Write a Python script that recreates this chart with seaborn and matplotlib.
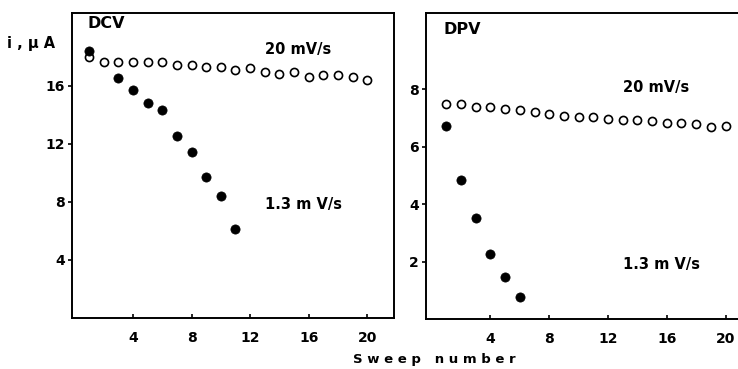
import numpy as np
import pandas as pd
import seaborn as sns
import matplotlib.pyplot as plt

sns.set_style("ticks")
plt.rcParams['font.family'] = ['DejaVu Sans']
plt.rcParams['font.weight'] = 'bold'
plt.rcParams['text.color'] = 'black'
plt.rcParams['xtick.color'] = 'black'
plt.rcParams['ytick.color'] = 'black'
plt.rcParams['axes.edgecolor'] = 'black'

# DCV panel
dcv_sweep_fast = list(range(1, 21))
dcv_fast = [18.0, 17.6, 17.6, 17.6, 17.6, 17.6, 17.4, 17.45, 17.3, 17.3,
            17.1, 17.2, 16.9, 16.8, 16.9, 16.6, 16.7, 16.7, 16.6, 16.4]
dcv_sweep_slow = [1, 3, 4, 5, 6, 7, 8, 9, 10, 11]
dcv_slow = [18.4, 16.5, 15.7, 14.8, 14.3, 12.5, 11.4, 9.7, 8.4, 6.1]

# DPV panel
dpv_sweep_fast = list(range(1, 21))
dpv_fast = [7.49, 7.49, 7.38, 7.37, 7.32, 7.27, 7.21, 7.15, 7.08, 7.04,
            7.04, 6.97, 6.94, 6.92, 6.91, 6.83, 6.83, 6.80, 6.68, 6.71]
dpv_sweep_slow = [1, 2, 3, 4, 5, 6]
dpv_slow = [6.71, 4.83, 3.51, 2.28, 1.47, 0.77]

fig = plt.figure(figsize=(7.38, 3.69), dpi=100)
ax1 = fig.add_axes([0.0976, 0.138, 0.436, 0.827])
ax2 = fig.add_axes([0.577, 0.1355, 0.43, 0.83])

def draw(ax, xs_f, ys_f, xs_s, ys_s):
    sns.scatterplot(x=xs_f, y=ys_f, ax=ax, s=34, facecolor='white',
                    edgecolor='black', linewidth=1.2, zorder=3)
    sns.scatterplot(x=xs_s, y=ys_s, ax=ax, s=44, color='black',
                    edgecolor='black', linewidth=0.5, zorder=3)
    for sp in ax.spines.values():
        sp.set_linewidth(1.4)
    ax.tick_params(axis='x', direction='in', length=3, width=1.2, labelsize=10, pad=9)
    ax.tick_params(axis='y', direction='out', length=3, width=1.2, labelsize=10, pad=2)
    ax.set_xticks([4, 8, 12, 16, 20])

lab = dict(fontsize=10.5, fontweight='bold', va='center')

draw(ax1, dcv_sweep_fast, dcv_fast, dcv_sweep_slow, dcv_slow)
ax1.set_xlim(-0.15, 21.8)
ax1.set_ylim(0, 21)
ax1.set_yticks([4, 8, 12, 16])
ax1.text(0.9, 20.3, 'DCV', fontsize=11.5, fontweight='bold', va='center')
ax1.text(13.0, 18.5, '20 mV/s', **lab)
ax1.text(13.0, 7.8, '1.3 m V/s', **lab)
fig.text(0.01, 0.883, 'i , μ A', fontsize=10.5, fontweight='bold', va='center')

draw(ax2, dpv_sweep_fast, dpv_fast, dpv_sweep_slow, dpv_slow)
ax2.set_xlim(-0.4, 21.2)
ax2.set_ylim(0, 10.67)
ax2.set_yticks([2, 4, 6, 8])
ax2.spines['right'].set_visible(False)
ax2.text(0.8, 10.1, 'DPV', fontsize=11.5, fontweight='bold', va='center')
ax2.text(13.0, 8.05, '20 mV/s', **lab)
ax2.text(13.0, 1.9, '1.3 m V/s', **lab)

fig.text(0.588, 0.027, 'S w e e p   n u m b e r', fontsize=9.5, fontweight='bold',
         ha='center', va='center')

fig.savefig('out.png', dpi=100)
